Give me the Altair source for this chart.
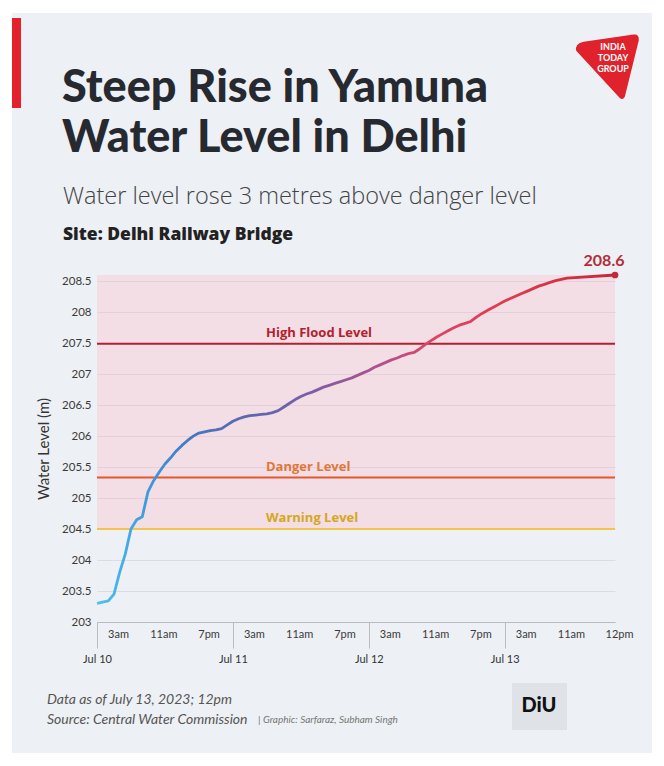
import json
import altair as alt
import pandas as pd

# ---------------- data ----------------
hours = list(range(0, 85))  # hours since Jul 10, 00:00
water_level = [
    203.30, 203.32, 203.34, 203.45, 203.80, 204.10, 204.50, 204.65, 204.70, 205.10,
    205.28, 205.42, 205.55, 205.65, 205.76, 205.85, 205.93, 206.00, 206.05, 206.07,
    206.09, 206.10, 206.12, 206.18, 206.24, 206.28, 206.31, 206.33, 206.34, 206.35,
    206.36, 206.38, 206.41, 206.47, 206.53, 206.59, 206.64, 206.68, 206.71, 206.75,
    206.79, 206.82, 206.85, 206.88, 206.91, 206.94, 206.98, 207.02, 207.06, 207.11,
    207.15, 207.19, 207.23, 207.26, 207.30, 207.33, 207.35, 207.41, 207.48, 207.54,
    207.60, 207.65, 207.70, 207.75, 207.79, 207.82, 207.85, 207.92, 207.98, 208.03,
    208.08, 208.13, 208.18, 208.22, 208.26, 208.30, 208.34, 208.38, 208.42, 208.45,
    208.48, 208.51, 208.53, 208.55, 208.60,
]

level_names = ["High Flood Level", "Danger Level", "Warning Level"]
level_values = [207.49, 205.33, 204.50]

hour_ticks = [3, 11, 19, 27, 35, 43, 51, 59, 67, 75, 83, 84]
hour_labels = ["3am", "11am", "7pm", "3am", "11am", "7pm", "3am", "11am", "7pm",
               "3am", "11am", "12pm"]
day_ticks = [0, 24, 48, 72]
day_labels = ["Jul 10", "Jul 11", "Jul 12", "Jul 13"]
y_ticks = [203, 203.5, 204, 204.5, 205, 205.5, 206, 206.5, 207, 207.5, 208, 208.5]

title_lines = ["Steep Rise in Yamuna", "Water Level in Delhi"]
subtitle = "Water level rose 3 metres above danger level"
site_text = "Site: Delhi Railway Bridge"
footer_lines = ["Data as of July 13, 2023; 12pm", "Source: Central Water Commission"]
credit = "| Graphic: Sarfaraz, Subham Singh"

# ---------------- styles ----------------
FONT = "Lato"
CARD = "#edf0f4"
line_colors = ["#b3202f", "#e4582c", "#f5c24c"]
label_colors = ["#b3202f", "#e0773a", "#d6a621"]
line_widths = [2, 2, 3]

series = pd.DataFrame({"hour": hours, "level": water_level})
levels_df = pd.DataFrame({"name": level_names, "value": level_values})
band_df = pd.DataFrame({"t0": [hours[0]], "t1": [hours[-1]],
                        "lo": [level_values[2]], "hi": [max(water_level)]})
last_df = series.tail(1)
one = pd.DataFrame({"a": [0]})

x_scale = alt.Scale(domain=[0, 83, 84], range=[0, 470, 518], nice=False, zero=False)
y_scale = alt.Scale(domain=[203, 208.6], nice=False, zero=False)
y_axis = alt.Axis(values=y_ticks, format="~g", title="Water Level (m)", ticks=False,
                  domain=False, grid=True, gridColor="#d9dde4", labelPadding=6,
                  titlePadding=10, labelFontSize=11.5, titleFontSize=15,
                  labelColor="#3a3a3a", titleColor="#333", labelFont=FONT,
                  titleFont=FONT, titleFontWeight="normal")

label_expr = f"{json.dumps(hour_labels)}[indexof({json.dumps(hour_ticks)}, datum.value)]"
day_expr = f"{json.dumps(day_labels)}[indexof({json.dumps(day_ticks)}, datum.value)]"

hour_axis = alt.Axis(values=hour_ticks, labelExpr=label_expr, orient="bottom", ticks=False,
                     domain=True, domainColor="#b9bcc2", grid=False, labelPadding=6,
                     labelOffset=4, labelFontSize=11, labelColor="#3a3a3a", title=None,
                     labelFont=FONT, labelFlush=False, labelOverlap=False)
day_axis = alt.Axis(values=day_ticks, labelExpr=day_expr, orient="bottom", ticks=True,
                    tickSize=26, tickColor="#b9bcc2", domain=False, grid=False,
                    labelPadding=5, labelFontSize=11, labelColor="#333", title=None,
                    labelFont=FONT, labelFlush=False, labelOverlap=False)


def strip(x1, x2, y1, y2, color):
    return alt.Chart(one).mark_rect(color=color).encode(
        x=alt.value(x1), x2=alt.value(x2), y=alt.value(y1), y2=alt.value(y2))


def label(text, x, y, size, weight="normal", style="normal", color="#222", font=FONT,
          align="left", baseline="alphabetic"):
    return alt.Chart(one).mark_text(
        text=text, align=align, baseline=baseline, fontSize=size, fontWeight=weight,
        fontStyle=style, font=font, color=color).encode(x=alt.value(x), y=alt.value(y))


# white frame around the grey card
frame = [strip(-97, 567, -275, -262, "white"), strip(-97, -85, -275, 491, "white"),
         strip(555, 567, -275, 491, "white"), strip(-97, 567, 478, 491, "white")]
red_bar = strip(-85, -76, -257, -167, "#e3202b")

band = alt.Chart(band_df).mark_rect(color="#ffb0bc", opacity=0.28).encode(
    x=alt.X("t0:Q", scale=x_scale, axis=day_axis),
    x2="t1:Q",
    y=alt.Y("lo:Q", scale=y_scale, axis=y_axis),
    y2="hi:Q")

rules = alt.Chart(levels_df).mark_rule().encode(
    y=alt.Y("value:Q", scale=y_scale, axis=y_axis),
    color=alt.Color("name:N", scale=alt.Scale(domain=level_names, range=line_colors), legend=None),
    strokeWidth=alt.StrokeWidth("name:N", scale=alt.Scale(domain=level_names, range=line_widths), legend=None))

rule_labels = alt.Chart(levels_df).mark_text(
    align="left", baseline="alphabetic", dy=-7, fontSize=13, fontWeight="bold", font="Open Sans"
).encode(
    x=alt.value(169),
    y=alt.Y("value:Q", scale=y_scale, axis=y_axis),
    text="name:N",
    color=alt.Color("name:N", scale=alt.Scale(domain=level_names, range=label_colors), legend=None))

gradient = alt.Gradient(
    gradient="linear", x1=0, x2=1, y1=0, y2=0,
    stops=[alt.GradientStop(offset=0, color="#4fc2ef"),
           alt.GradientStop(offset=0.08, color="#3fa2e0"),
           alt.GradientStop(offset=0.18, color="#4378c4"),
           alt.GradientStop(offset=0.30, color="#5f66b0"),
           alt.GradientStop(offset=0.42, color="#7d5ea6"),
           alt.GradientStop(offset=0.55, color="#b3508e"),
           alt.GradientStop(offset=0.65, color="#dc4466"),
           alt.GradientStop(offset=0.80, color="#e03a4c"),
           alt.GradientStop(offset=1, color="#c4283a")])

line = alt.Chart(series).mark_line(color=gradient, strokeWidth=2.8, strokeJoin="round").encode(
    x=alt.X("hour:Q", scale=x_scale, axis=hour_axis),
    y=alt.Y("level:Q", scale=y_scale, axis=y_axis))

dot = alt.Chart(last_df).mark_circle(color="#c4283a", size=45, opacity=1).encode(
    x=alt.X("hour:Q", scale=x_scale, axis=None),
    y=alt.Y("level:Q", scale=y_scale, axis=y_axis))
dot_label = alt.Chart(last_df).mark_text(
    dx=-11, dy=-9, fontSize=16, fontWeight="bold", color="#b52b37", font=FONT,
    align="center", baseline="alphabetic").encode(
    x=alt.X("hour:Q", scale=x_scale, axis=None),
    y=alt.Y("level:Q", scale=y_scale, axis=y_axis),
    text=alt.Text("level:Q", format=".1f"))

texts = [
    label(title_lines[0], -35, -173, 45, weight=900, color="#262a30"),
    label(title_lines[1], -35, -123, 45, weight=900, color="#262a30"),
    label(subtitle, -34, -71, 23.5, weight=300, color="#444", font="Open Sans"),
    label(site_text, -34, -35, 17.5, weight=800, color="#222", font="Open Sans"),
    label(footer_lines[0], -50, 429, 14, style="italic", color="#555"),
    label(footer_lines[1], -50, 449, 14, style="italic", color="#555"),
    label(credit, 161, 448, 10, style="italic", color="#777"),
]

diu_box = strip(415, 470, 408, 455, "#dfe2e7")
diu_text = label("DiU", 442, 431, 20, weight=900, color="#111", align="center", baseline="middle")

shield_path = ("M -0.95 -0.5 Q -1 -0.72 -0.72 -0.78 L 0.82 -1 Q 1 -1.02 0.98 -0.82 "
               "L 0.55 0.92 Q 0.48 1.05 0.38 0.94 Z")
logo = alt.Chart(one).mark_point(shape=shield_path, filled=True, color="#e0222c",
                                 size=4200, opacity=1).encode(
    x=alt.value(510), y=alt.value(-208))
logo_text = [label(t, 516, y, 9, weight="bold", color="white", align="center", baseline="middle")
             for t, y in zip(["INDIA", "TODAY", "GROUP"], [-228, -217, -206])]

chart = alt.layer(
    red_bar, band, rules, rule_labels, line, dot, dot_label,
    *texts, diu_box, diu_text, logo, *logo_text, *frame
).resolve_axis(x="independent").resolve_scale(color="independent", strokeWidth="independent").properties(
    width=518, height=347,
    autosize=alt.AutoSizeParams(type="none"),
    padding={"left": 97, "top": 275, "right": 49, "bottom": 144},
    background=CARD,
).configure_view(stroke=None)

chart.save("out.html", embed_options={"renderer": "svg", "actions": False})
